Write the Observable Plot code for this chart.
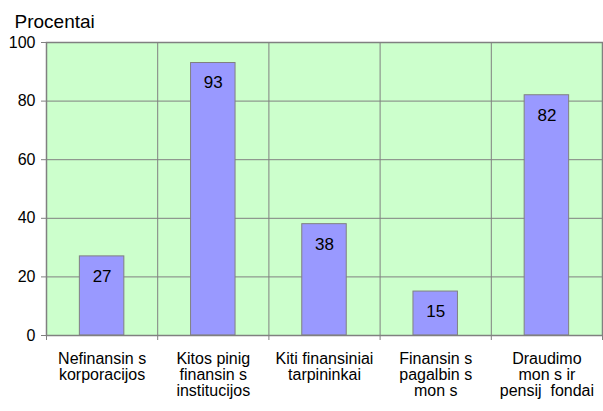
<!DOCTYPE html>
<html>
<head>
<meta charset="utf-8">
<script src="https://cdn.jsdelivr.net/npm/d3@7"></script>
<script src="https://cdn.jsdelivr.net/npm/@observablehq/plot@0.6"></script>
<style>
  html, body { margin: 0; padding: 0; background: #ffffff; }
</style>
</head>
<body>
<div id="chart"></div>
<script>
const categories = [
  "Nefinansin s\nkorporacijos",
  "Kitos pinig\nfinansin s\ninstitucijos",
  "Kiti finansiniai\ntarpininkai",
  "Finansin s\npagalbin s\nmon s",
  "Draudimo\nmon s ir\npensij  fondai"
];
const values = [27, 93, 38, 15, 82];
const yTicks = [0, 20, 40, 60, 80, 100];
const yTitle = "Procentai";

const data = categories.map((c, i) => ({ c, i, v: values[i] }));
const bounds = d3.range(0, categories.length + 1);

const chart = Plot.plot({
  width: 603,
  height: 411,
  marginLeft: 46,
  marginRight: 1,
  marginTop: 42,
  marginBottom: 76,
  style: { fontFamily: "'Liberation Sans', Arial, sans-serif", background: "#ffffff", color: "#000000" },
  x: { domain: [0, categories.length], axis: null },
  y: { domain: [0, 100], axis: null },
  marks: [
    Plot.frame({ fill: "#CCFFCC" }),
    Plot.gridY(yTicks, { stroke: "#808080", strokeOpacity: 1 }),
    Plot.ruleX(bounds.slice(1, -1), { stroke: "#808080" }),
    Plot.rectY(data, { x1: d => d.i + 0.3, x2: d => d.i + 0.7, y: "v", fill: "#9999FF", stroke: "#808080" }),
    Plot.text(data, { x: d => d.i + 0.5, y: "v", text: d => String(d.v), dy: 20, fontSize: 17, fill: "#000000" }),
    Plot.frame({ stroke: "#808080", strokeWidth: 1.5 }),
    Plot.axisY(yTicks, { tickSize: 5, tickPadding: 6, fontSize: 16, stroke: "#808080", fill: "#000000", label: null }),
    Plot.axisX(bounds, { tickSize: 5, tickFormat: () => "", stroke: "#808080", label: null }),
    Plot.text(data, { x: d => d.i + 0.5, y: () => 0, text: "c", dy: 17, lineAnchor: "top", lineHeight: 1.0, fontSize: 16, fill: "#000000" }),
    Plot.text([yTitle], { frameAnchor: "top-left", text: d => d, dx: -32, dy: -21, lineAnchor: "middle", textAnchor: "start", fontSize: 19, fill: "#000000" })
  ]
});
document.getElementById("chart").appendChild(chart);
</script>
</body>
</html>
